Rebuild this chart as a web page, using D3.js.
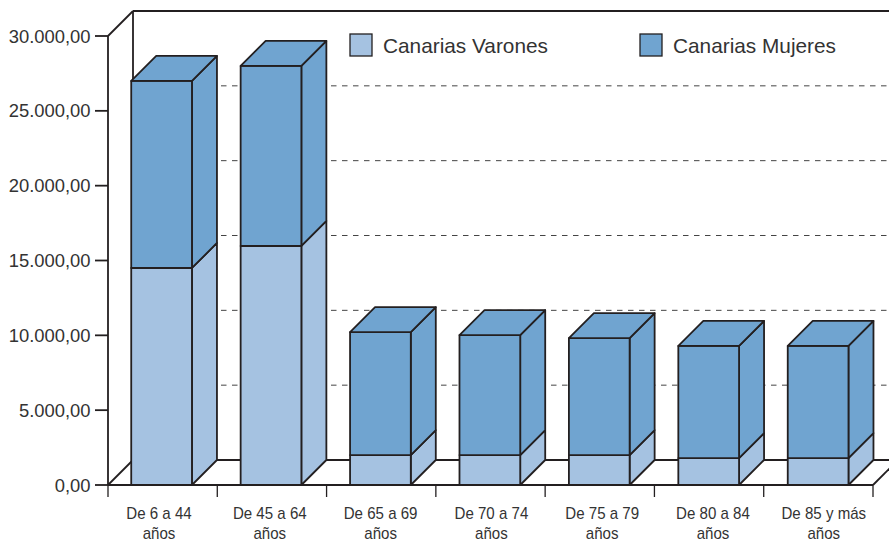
<!DOCTYPE html>
<html><head><meta charset="utf-8">
<script src="https://cdn.jsdelivr.net/npm/d3@7/dist/d3.min.js"></script>
<style>html,body{margin:0;padding:0;background:#fff}svg{display:block}text{font-family:"Liberation Sans",Arial,sans-serif;fill:#333}</style>
</head><body><svg id="c" width="889" height="541"></svg>
<script>
const categories = [["De 6 a 44","años"],["De 45 a 64","años"],["De 65 a 69","años"],["De 70 a 74","años"],["De 75 a 79","años"],["De 80 a 84","años"],["De 85 y más","años"]];
const varones = [14500,15970,2000,2000,2000,1800,1800];
const mujeres = [12500,12030,8220,8020,7820,7490,7490];
const yTicks = [0,5000,10000,15000,20000,25000,30000];
const seriesNames = ["Canarias Varones","Canarias Mujeres"];
const colors = ["#a5c2e1","#70a4d0"];

const W=889, stroke="#231f20", depth=25, sw=1.8;
const svg=d3.select("#c");
const y=d3.scaleLinear().domain([0,30000]).range([485,36]);
const x=d3.scaleBand().domain(d3.range(categories.length)).range([107.7,872]).paddingInner(0.445).paddingOuter(0.215);
const fmt=v=>d3.format(",.2f")(v).replace(/,/g,"#").replace(".",",").replace(/#/g,".");
const line=(a,b,c,d,w=sw)=>svg.append("line").attr("x1",a).attr("y1",b).attr("x2",c).attr("y2",d).attr("stroke",stroke).attr("stroke-width",w);

// walls and floor
line(133,y(30000)-depth,W,y(30000)-depth);
line(133,y(30000)-depth,133,y(0)-depth);
line(133,y(0)-depth,W,y(0)-depth);
line(108,y(30000),133,y(30000)-depth);
line(108,y(0),133,y(0)-depth);
line(873,y(0),873+depth,y(0)-depth);
// dashed grid
yTicks.slice(1,-1).forEach(t=>{
  line(133,y(t)-depth,W,y(t)-depth,1).attr("stroke-dasharray","5.5 5.5").attr("stroke","#444");
});
// bars
function box(x0,x1,yb,yt,fill,top){
  const g=svg.append("g").attr("stroke",stroke).attr("stroke-width",sw).attr("stroke-linejoin","round").attr("fill",fill);
  g.append("path").attr("d",d3.line()([[x1,yb],[x1+depth,yb-depth],[x1+depth,yt-depth],[x1,yt]])+"Z");
  g.append("rect").attr("x",x0).attr("y",yt).attr("width",x1-x0).attr("height",yb-yt);
  if(top) g.append("path").attr("d",d3.line()([[x0,yt],[x0+depth,yt-depth],[x1+depth,yt-depth],[x1,yt]])+"Z");
}
categories.forEach((c,i)=>{
  const x0=x(i), x1=x0+x.bandwidth();
  box(x0,x1,y(0),y(varones[i]),colors[0],false);
  box(x0,x1,y(varones[i]),y(varones[i]+mujeres[i]),colors[1],true);
});
// y axis
line(108,y(30000),108,y(0));
line(108,y(0),873,y(0),2.2);
yTicks.forEach(t=>{
  line(95,y(t),108,y(t));
  svg.append("text").attr("x",90.5).attr("y",y(t)+6.5).attr("text-anchor","end").attr("font-size",18.4).text(fmt(t));
});
// x ticks
d3.range(categories.length+1).forEach(i=>{
  const tx=108+i*(765/categories.length);
  line(tx,y(0),tx,y(0)+12,1.3);
});
categories.forEach((c,i)=>{
  const tx=159+i*110.8;
  const t=svg.append("text").attr("text-anchor","middle").attr("font-size",16.4).attr("transform",`translate(${tx},0) scale(0.92,1)`);
  c.forEach((s,k)=>t.append("tspan").attr("x",0).attr("y",519+k*20).text(s));
});
// legend
[[350,383],[640,673]].forEach((p,i)=>{
  svg.append("rect").attr("x",p[0]).attr("y",34).attr("width",22).attr("height",22).attr("fill",colors[i]).attr("stroke",stroke).attr("stroke-width",1.3);
  svg.append("text").attr("x",p[1]).attr("y",53).attr("font-size",20.8).text(seriesNames[i]);
});
</script></body></html>
